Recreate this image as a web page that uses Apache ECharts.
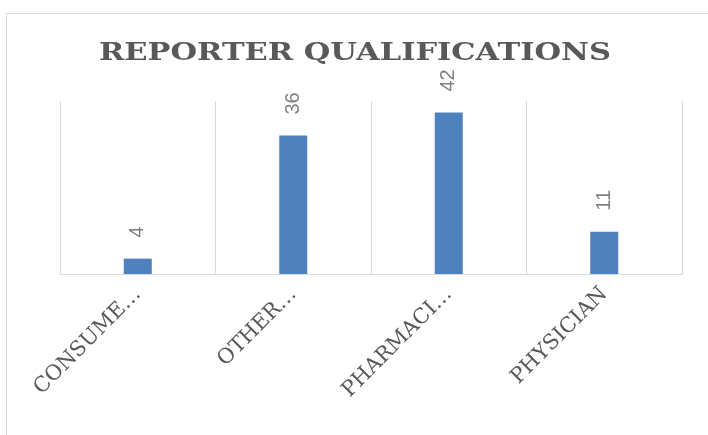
<!DOCTYPE html>
<html>
<head>
<meta charset="utf-8">
<script src="https://cdn.jsdelivr.net/npm/echarts@6/dist/echarts.min.js"></script>
<style>
  html, body { margin: 0; padding: 0; background: #fff; }
  #chart { width: 708px; height: 435px; }
</style>
</head>
<body>
<div id="chart"></div>
<script>
// data
var categories = ['CONSUME…', 'OTHER…', 'PHARMACI…', 'PHYSICIAN']
var counts = [4, 36, 42, 11]
var titleText = 'REPORTER QUALIFICATIONS'

var chart = echarts.init(document.getElementById('chart'))
chart.setOption({
  animation: false,
  graphic: [
    // outer chart border (right and bottom edges are cut off in the picture)
    {
      type: 'rect',
      shape: { x: 6.5, y: 13.5, width: 760, height: 480 },
      style: { fill: 'none', stroke: '#d9d9d9', lineWidth: 1 },
      silent: true
    },
    // title, stretched a bit to get the wide letter spacing of the original
    {
      type: 'text',
      x: 355,
      y: 53,
      scaleX: 1.22,
      style: {
        text: titleText,
        textAlign: 'center',
        textVerticalAlign: 'middle',
        fontFamily: 'DejaVu Serif',
        fontWeight: 'bold',
        fontSize: 25,
        fill: '#595959'
      }
    }
  ],
  grid: { left: 60, right: 26, top: 101, bottom: 161 },
  xAxis: {
    type: 'category',
    data: categories,
    axisLine: { lineStyle: { color: '#d9d9d9', width: 1 } },
    axisTick: { show: false },
    splitLine: { show: true, lineStyle: { color: '#d9d9d9', width: 1 } },
    axisLabel: {
      rotate: 45,
      margin: 17,
      interval: 0,
      fontFamily: 'DejaVu Serif',
      fontSize: 21,
      color: '#595959'
    }
  },
  yAxis: {
    type: 'value',
    min: 0,
    max: 45,
    show: false,
    splitLine: { show: false }
  },
  series: [{
    type: 'bar',
    data: counts,
    barWidth: 28,
    itemStyle: { color: '#4f81bd' },
    label: {
      show: true,
      position: 'top',
      rotate: 90,
      align: 'left',
      verticalAlign: 'middle',
      distance: 21,
      fontFamily: 'Liberation Sans',
      fontSize: 20,
      color: '#808080'
    }
  }]
})
</script>
</body>
</html>
